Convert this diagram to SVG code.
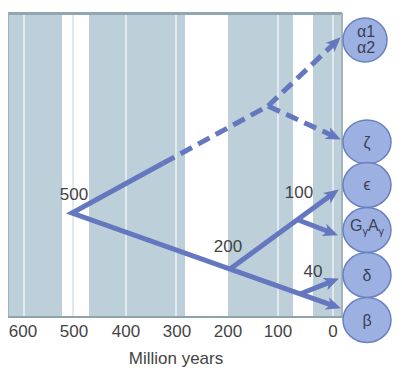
<svg xmlns="http://www.w3.org/2000/svg" width="402" height="372" viewBox="0 0 402 372">
<style>
.band{fill:#bdcfd9}
.wh{fill:#ffffff}
.lt{stroke:#dfe9ee;stroke-width:2}
.ln{fill:none;stroke:#6477bf;stroke-width:5}
.ds{stroke-dasharray:13 7}
.nd{fill:#9cb1e2;stroke:#6a80c0;stroke-width:1.5}
.tk{font-family:"Liberation Sans",Arial,sans-serif;font-size:17px;fill:#444;text-anchor:middle}
.nt{font-family:"Liberation Sans",Arial,sans-serif;font-size:16px;fill:#3c3f55;text-anchor:middle}
</style>
<defs>
<marker id="ah" markerUnits="userSpaceOnUse" markerWidth="16" markerHeight="14" refX="6" refY="6.5" orient="auto">
<path d="M0,0 L15,6.5 L0,13 L4,6.5 Z" fill="#6477bf"/>
</marker>
</defs>
<g id="background">
<rect class="band" x="8" y="14" width="334" height="303"/>
<rect class="wh" x="62" y="14" width="27" height="303"/>
<rect class="wh" x="185" y="14" width="43" height="303"/>
<rect class="wh" x="293" y="14" width="20" height="303"/>
<line class="lt" x1="24" y1="15" x2="24" y2="316"/>
<line class="lt" x1="73" y1="15" x2="73" y2="316" stroke="#f1f5f7"/>
<line class="lt" x1="126" y1="15" x2="126" y2="316"/>
<line class="lt" x1="176" y1="15" x2="176" y2="316"/>
<line class="lt" x1="278" y1="15" x2="278" y2="316"/>
<line class="lt" x1="333" y1="15" x2="333" y2="316"/>
<rect x="8" y="12" width="334" height="3" fill="#92a6b1"/>
<line x1="8.5" y1="13" x2="8.5" y2="317" stroke="#9fb1bb" stroke-width="1"/>
<line x1="342" y1="13" x2="342" y2="317" stroke="#a3b4bd" stroke-width="2"/>
<line x1="8" y1="317" x2="343" y2="317" stroke="#8fa3ad" stroke-width="2"/>
</g>
<g id="axis-labels">
<text class="tk" x="23" y="337">600</text>
<text class="tk" x="74" y="337">500</text>
<text class="tk" x="126" y="337">400</text>
<text class="tk" x="177" y="337">300</text>
<text class="tk" x="228" y="337">200</text>
<text class="tk" x="278" y="337">100</text>
<text class="tk" x="333" y="337">0</text>
<text class="tk" x="176" y="364">Million years</text>
</g>
<g id="connectors">
<polyline class="ln" points="163,163.3 72,213 332.5,305.3" marker-end="url(#ah)" stroke-linejoin="miter"/>
<line class="ln ds" x1="163" y1="163.3" x2="268" y2="106"/>
<line class="ln ds" x1="268" y1="106" x2="334.2" y2="43.5" marker-end="url(#ah)"/>
<line class="ln ds" x1="268" y1="106" x2="332.7" y2="135.7" marker-end="url(#ah)"/>
<line class="ln" x1="230" y1="269" x2="331.5" y2="194.7" marker-end="url(#ah)"/>
<line class="ln" x1="297" y1="219.5" x2="329.6" y2="232" marker-end="url(#ah)"/>
<line class="ln" x1="300" y1="294" x2="330.6" y2="281.9" marker-end="url(#ah)"/>
</g>
<g id="branch-labels">
<text class="tk" x="74" y="200">500</text>
<text class="tk" x="299" y="198">100</text>
<text class="tk" x="228" y="252">200</text>
<text class="tk" x="313" y="277">40</text>
</g>
<g id="node-alpha">
<circle class="nd" cx="365" cy="40" r="22"/>
<text class="nt" x="366" y="37">α1</text>
<text class="nt" x="366" y="53">α2</text>
</g>
<g id="node-zeta">
<ellipse class="nd" cx="367" cy="142" rx="24" ry="22"/>
<text class="nt" x="367" y="148">ζ</text>
</g>
<g id="node-epsilon">
<ellipse class="nd" cx="367" cy="185" rx="24" ry="22.5"/>
<text class="nt" x="367" y="190" font-size="14px">ϵ</text>
</g>
<g id="node-gamma">
<ellipse class="nd" cx="367" cy="230" rx="24" ry="22.5"/>
<text class="nt" x="367" y="231" font-size="17px">G<tspan font-size="11px" dy="4">γ</tspan><tspan dy="-4">A</tspan><tspan font-size="11px" dy="4">γ</tspan></text>
</g>
<g id="node-delta">
<ellipse class="nd" cx="367" cy="275" rx="24" ry="22.5"/>
<text class="nt" x="367" y="281">δ</text>
</g>
<g id="node-beta">
<ellipse class="nd" cx="367" cy="320" rx="24" ry="22.5"/>
<text class="nt" x="367" y="326">β</text>
</g>
</svg>
